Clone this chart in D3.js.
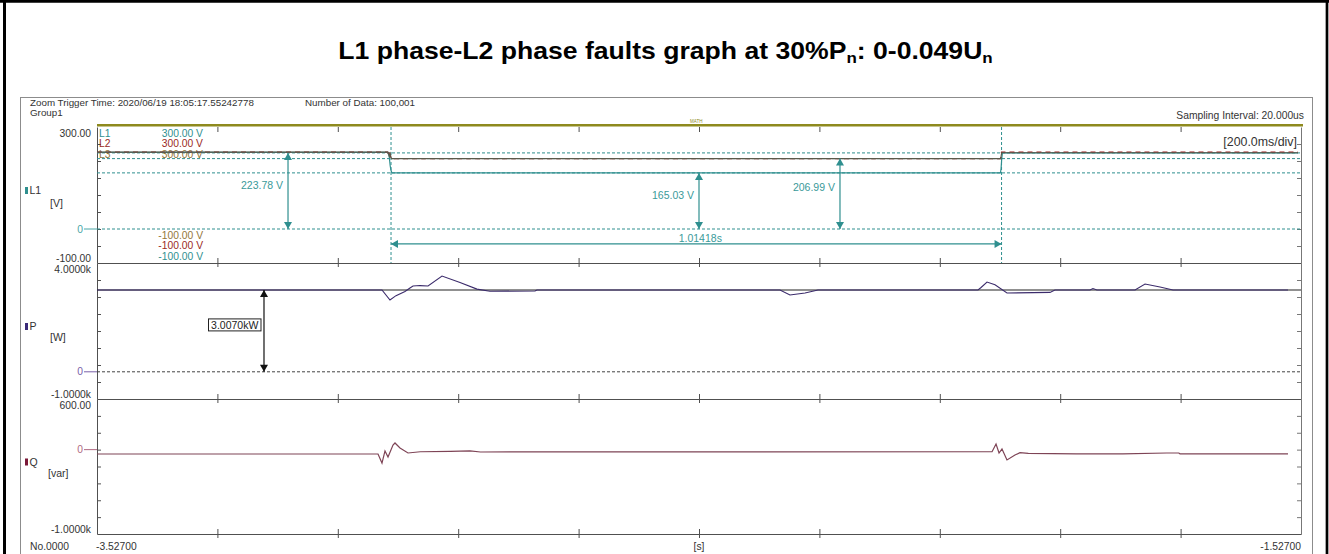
<!DOCTYPE html>
<html><head><meta charset="utf-8">
<script src="https://cdn.jsdelivr.net/npm/d3@7"></script>
<style>
html,body{margin:0;padding:0;background:#fff;}
svg{display:block;}
text{font-family:"Liberation Sans",Arial,sans-serif;}
</style></head><body>
<svg id="c" width="1329" height="554"></svg>
<script>
// ---------------- data ----------------
const timeDomain = [-3.527, -1.527];          // seconds, 200 ms/div
const timeTickLabels = ["-3.52700", "-1.52700"];
const voltDomain = [-100, 300];
const powerDomain = [-1000, 4000];
const reactDomain = [-1000, 600];
const voltTickLabels = ["300.00", "0", "-100.00"];
const powerTickLabels = ["4.0000k", "0", "-1.0000k"];
const reactTickLabels = ["600.00", "0", "-1.0000k"];

// L1 phase voltage (teal)
const l1Time = [-3.527, -3.0436, -3.0415, -3.0400, -3.0386, -3.0370, -2.0262, -2.0252, -2.0242, -2.0230, -1.532];
const l1Volt = [225.5, 225.5, 212, 186, 172, 165.03, 165.03, 178, 205, 224, 224];
// L2 phase voltage (dark red)
const l2Time = [-3.527, -3.0440, -3.0425, -3.0410, -3.0395, -3.0375, -2.0260, -2.0245, -1.532];
const l2Volt = [226.5, 226.5, 218, 226, 212, 207.0, 207.0, 226, 226];
// L3 phase voltage (olive)
const l3Time = [-3.527, -3.0445, -3.0430, -3.0415, -3.0400, -3.0380, -2.0258, -2.0243, -1.532];
const l3Volt = [226, 226, 224, 214, 222, 207.0, 207.0, 224.4, 224.4];

// Active power P (W)
const pTime = [-3.527, -3.0536, -3.0403, -3.0303, -3.0154, -3.0071, -3.0021, -2.9905, -2.9771, -2.9539, -2.9240, -2.8958, -2.8742, -2.7994, -2.7961,
               -2.3925, -2.3759, -2.3509, -2.3293, -2.0635, -2.0585, -2.0486, -2.0353, -2.0154, -1.9440, -1.9357, -1.8776, -1.8726, -1.8660,
               -1.8027, -1.7861, -1.7612, -1.7396, -1.5486];
const pValue = [3007, 3007, 2640, 2800, 2950, 3080, 3154, 3170, 3154, 3522, 3280, 3040, 2960, 2970, 3007,
                3007, 2823, 2900, 3007, 3007, 3100, 3301, 3200, 2897, 2920, 3007, 3007, 3060, 3007,
                3007, 3228, 3120, 3007, 3007];

// Reactive power Q (var)
const qTime = [-3.527, -3.0602, -3.0536, -3.0486, -3.0436, -3.0353, -3.0320, -3.0237, -3.0104, -2.9900, -2.9400, -2.9074, -2.8900,
               -2.0402, -2.0336, -2.0286, -2.0237, -2.0154, -2.0021, -1.9938, -1.9800, -1.9000, -1.8231, -1.7500, -1.7300, -1.7280, -1.5486];
const qValue = [-52, -52, -159, -16, -87, 55, 79, 19, -40, -25, -20, -16, -28,
                -25, 67, -40, 7, -123, -64, -36, -45, -50, -50, -40, -40, -50, -50];

// cursors / measurements
const cursorTimes = [-3.0386, -2.02442];
const cursorVolts = [223.78, 206.99, 165.03, 0];
const voltMeasTimes = [-3.2097, -2.527, -2.2928];
const voltMeasValues = [223.78, 165.03, 206.99];
const voltMeasLabels = ["223.78 V", "165.03 V", "206.99 V"];
const spanValue = -44;
const spanLabel = "1.01418s";
const powerMeasTime = -3.2496;
const powerMeasValue = 3007;
const powerMeasLabel = "3.0070kW";

// ---------------- drawing ----------------
const svg = d3.select("#c");
const TEAL = "#2f8f8f", L2C = "#9a2a24", L3C = "#94763a";
const AX = "#505050";

// outer document frame
svg.append("line").attr("x1", 0).attr("x2", 1329).attr("y1", 1.3).attr("y2", 1.3).attr("stroke", "#000").attr("stroke-width", 2.7);
svg.append("line").attr("x1", 4.5).attr("x2", 4.5).attr("y1", 0).attr("y2", 554).attr("stroke", "#000").attr("stroke-width", 3);
svg.append("line").attr("x1", 1327).attr("x2", 1327).attr("y1", 0).attr("y2", 554).attr("stroke", "#000").attr("stroke-width", 2.7);

// title
const title = svg.append("text").attr("text-anchor", "middle").attr("font-weight", "bold")
  .attr("font-size", 23.5).attr("fill", "#000");
title.append("tspan").text("L1 phase-L2 phase faults graph at 30%P");
title.append("tspan").attr("font-size", 15).attr("dy", 4).text("n");
title.append("tspan").attr("dy", -4).text(": 0-0.049U");
title.append("tspan").attr("font-size", 15).attr("dy", 4).text("n");
const tw = title.node().getBBox().width;
title.attr("transform", `translate(665.5,59) scale(${655 / tw},1)`);

// inner screenshot frame
svg.append("rect").attr("x", 20.5).attr("y", 97.5).attr("width", 1292).attr("height", 520)
  .attr("fill", "#fff").attr("stroke", "#8c8c8c");

const fs = 10.3;
function txt(x, y, s, opts = {}) {
  return svg.append("text").attr("x", x).attr("y", y).text(s)
    .attr("font-size", opts.size || fs).attr("fill", opts.fill || "#333")
    .attr("text-anchor", opts.anchor || "start");
}
txt(30, 105.6, "Zoom Trigger Time: 2020/06/19 18:05:17.55242778", { size: 9.8 });
txt(30, 116.2, "Group1", { size: 9.8 });
txt(305, 105.6, "Number of Data: 100,001", { size: 9.8 });
txt(1304, 118.7, "Sampling Interval:  20.000us", { anchor: "end" });

// scales
const x = d3.scaleLinear().domain(timeDomain).range([97, 1301]);
const yV = d3.scaleLinear().domain(voltDomain).range([263, 127]);
const yP = d3.scaleLinear().domain(powerDomain).range([399, 263]);
const yQ = d3.scaleLinear().domain(reactDomain).range([534, 399]);

// MATH bar
svg.append("line").attr("x1", 97).attr("x2", 1303).attr("y1", 125.3).attr("y2", 125.3)
  .attr("stroke", "#8e8a1e").attr("stroke-width", 2.6);
txt(x(-2.527) - 9, 123.3, "MATH", { size: 4.5, fill: "#8e8a1e" });

const xDivs = d3.range(11).map(i => timeDomain[0] + i * 0.2);

// panels
const panels = [
  { y: yV, dom: voltDomain, labels: voltTickLabels, zeroColor: "#4aa6a6" },
  { y: yP, dom: powerDomain, labels: powerTickLabels, zeroColor: "#7a60a8" },
  { y: yQ, dom: reactDomain, labels: reactTickLabels, zeroColor: "#b06a82" },
];
panels.forEach((p, i) => {
  const divs = d3.range(9).map(k => p.dom[0] + k * (p.dom[1] - p.dom[0]) / 8);
  const inner = divs.slice(1, 8);
  svg.append("g").attr("transform", "translate(97,0)")
    .call(d3.axisLeft(p.y).tickValues(inner).tickSize(-4).tickSizeOuter(0).tickFormat(""))
    .call(g => g.selectAll("path,line").attr("stroke", AX));
  svg.append("g").attr("transform", "translate(1301,0)")
    .call(d3.axisRight(p.y).tickValues(inner).tickSize(-4).tickSizeOuter(0).tickFormat(""))
    .call(g => g.selectAll("path,line").attr("stroke", "#777"));
  const r = p.y.range();
  if (i === 0) {
    svg.append("g").attr("transform", `translate(0,${r[1]})`)
      .call(d3.axisBottom(x).tickValues(xDivs.slice(1, 10)).tickSize(5).tickSizeOuter(0).tickFormat(""))
      .call(g => g.select("path").remove())
      .call(g => g.selectAll("line").attr("stroke", AX));
  }
  svg.append("g").attr("transform", `translate(0,${r[0]})`)
    .call(d3.axisBottom(x).tickValues(xDivs.slice(1, 10)).tickSize(4).tickSizeOuter(0).tickFormat(""))
    .call(g => g.selectAll("path,line").attr("stroke", AX));
  svg.append("g").attr("transform", `translate(0,${r[0]})`)
    .call(d3.axisTop(x).tickValues(xDivs.slice(1, 10)).tickSize(5).tickSizeOuter(0).tickFormat(""))
    .call(g => g.select("path").remove())
    .call(g => g.selectAll("line").attr("stroke", AX));
  txt(91, r[1] + 6 + 3.6, p.labels[0], { anchor: "end" });
  txt(91, r[0] - 5 + 3.6, p.labels[2], { anchor: "end" });
  const y0 = p.y(0);
  txt(83, y0 + 3.6, p.labels[1], { anchor: "end", fill: p.zeroColor });
  svg.append("line").attr("x1", 84).attr("x2", 97).attr("y1", y0).attr("y2", y0).attr("stroke", p.zeroColor);
});

// channel names
function chan(yc, name, unit, uy, color) {
  svg.append("rect").attr("x", 25).attr("y", yc - 3.5).attr("width", 3).attr("height", 7).attr("fill", color);
  txt(29.5, yc + 3.8, name, { size: 10.5 });
  txt(unit === "[var]" ? 48 : 50, uy + 3.8, unit, { size: 10.5 });
}
chan(190.5, "L1", "[V]", 203, TEAL);
chan(326.5, "P", "[W]", 337, "#3b2a78");
chan(462, "Q", "[var]", 473, "#7a1838");

// bottom labels
txt(30, 549.5, "No.0000");
txt(96, 549.5, timeTickLabels[0]);
txt(x(-2.527), 549.5, "[s]", { anchor: "middle" });
txt(1301, 549.5, timeTickLabels[1], { anchor: "end" });

// cursor lines panel 1
cursorVolts.forEach(v => {
  svg.append("line").attr("x1", 97).attr("x2", 1301).attr("y1", yV(v)).attr("y2", yV(v))
    .attr("stroke", TEAL).attr("stroke-dasharray", "3,2").attr("stroke-width", 1);
});
cursorTimes.forEach(t => {
  svg.append("line").attr("x1", x(t)).attr("x2", x(t)).attr("y1", 127).attr("y2", 263)
    .attr("stroke", TEAL).attr("stroke-dasharray", "3,2").attr("stroke-width", 1);
});

// panel 1 legend
const legCols = [TEAL, L2C, L3C];
["L1", "L2", "L3"].forEach((n, i) => {
  txt(99, 136.7 + i * 10.5, n, { fill: legCols[i] });
  txt(203, 136.7 + i * 10.5, "300.00 V", { anchor: "end", fill: legCols[i] });
  txt(203, 238.7 + i * 10.5, "-100.00 V", { anchor: "end", fill: legCols[2 - i] });
});
txt(1297, 146.3, "[200.0ms/div]", { anchor: "end", size: 12.4, fill: "#333" });

// traces
const lineV = d3.line().x(d => x(d[0])).y(d => yV(d[1]));
svg.append("path").attr("d", lineV(d3.zip(l1Time, l1Volt))).attr("fill", "none").attr("stroke", TEAL).attr("stroke-width", 1.2);
svg.append("path").attr("d", lineV(d3.zip(l2Time, l2Volt))).attr("fill", "none").attr("stroke", "#9a1e1e").attr("stroke-width", 1.2).attr("stroke-dasharray", "5,4");
svg.append("path").attr("d", lineV(d3.zip(l3Time, l3Volt))).attr("fill", "none").attr("stroke", "#5b5a4c").attr("stroke-width", 1.1);

// P panel
svg.append("line").attr("x1", 97).attr("x2", 1301).attr("y1", yP(0)).attr("y2", yP(0))
  .attr("stroke", "#444").attr("stroke-dasharray", "3,2");
svg.append("line").attr("x1", 97).attr("x2", 1301).attr("y1", yP(powerMeasValue)).attr("y2", yP(powerMeasValue))
  .attr("stroke", "#222").attr("stroke-width", 1.1);
const lineP = d3.line().x(d => x(d[0])).y(d => yP(d[1]));
svg.append("path").attr("d", lineP(d3.zip(pTime, pValue))).attr("fill", "none").attr("stroke", "#3b2b6b").attr("stroke-width", 1.1);

// Q panel
const lineQ = d3.line().x(d => x(d[0])).y(d => yQ(d[1]));
svg.append("path").attr("d", lineQ(d3.zip(qTime, qValue))).attr("fill", "none").attr("stroke", "#7e4456").attr("stroke-width", 1.2);

// arrows
function arrow(x1, y1, x2, y2, color) {
  svg.append("line").attr("x1", x1).attr("y1", y1).attr("x2", x2).attr("y2", y2).attr("stroke", color).attr("stroke-width", 1.2);
  const head = (tx, ty, dx, dy) => {
    const L = 7, W = 4;
    const bx = tx - dx * L, by = ty - dy * L;
    svg.append("path").attr("d", `M${tx},${ty}L${bx - dy * W},${by + dx * W}L${bx + dy * W},${by - dx * W}Z`).attr("fill", color);
  };
  const len = Math.hypot(x2 - x1, y2 - y1), ux = (x2 - x1) / len, uy = (y2 - y1) / len;
  head(x2, y2, ux, uy);
  head(x1, y1, -ux, -uy);
}
voltMeasTimes.forEach((t, i) => {
  const xx = x(t), ya = yV(voltMeasValues[i]), yb = yV(0);
  arrow(xx, ya, xx, yb, TEAL);
  txt(xx - 5, (ya + yb) / 2 - 6 + 3.6, voltMeasLabels[i], { anchor: "end", fill: "#3a9a9a", size: 10.5 });
});
{
  const ys = yV(spanValue);
  arrow(x(cursorTimes[0]), ys, x(cursorTimes[1]), ys, TEAL);
  txt((x(cursorTimes[0]) + x(cursorTimes[1])) / 2 + 4, ys - 6 + 3.6, spanLabel, { anchor: "middle", fill: "#3a9a9a", size: 10.5 });
}
{
  const xx = x(powerMeasTime), ya = yP(powerMeasValue), yb = yP(0);
  arrow(xx, ya, xx, yb, "#111");
  const cy = (ya + yb) / 2 - 6;
  svg.append("rect").attr("x", 208.5).attr("y", cy - 6).attr("width", xx - 3 - 208.5).attr("height", 12)
    .attr("fill", "#fff").attr("stroke", "#222");
  txt((208.5 + xx - 3) / 2, cy + 3.7, powerMeasLabel, { anchor: "middle", fill: "#222", size: 10.5 });
}
</script>
</body></html>
